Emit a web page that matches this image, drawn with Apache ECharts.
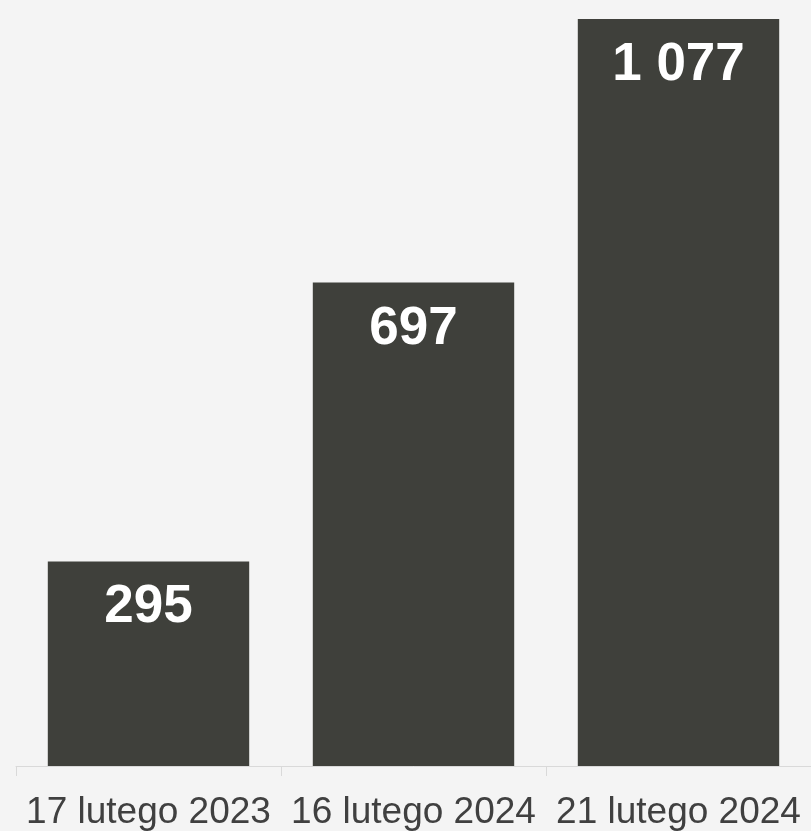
<!DOCTYPE html>
<html>
<head>
<meta charset="utf-8">
<script src="https://cdn.jsdelivr.net/npm/echarts@6/dist/echarts.min.js"></script>
<style>
  html, body { margin: 0; padding: 0; background: #f4f4f4; }
  #chart { width: 811px; height: 831px; }
</style>
</head>
<body>
<div id="chart"></div>
<script>
const categories = ['17 lutego 2023', '16 lutego 2024', '21 lutego 2024'];
const values = [295, 697, 1077];

// Thousands separated by a space, Polish style
function formatPl(v) {
  return String(v).replace(/\B(?=(\d{3})+(?!\d))/g, ' ');
}

const chart = echarts.init(document.getElementById('chart'), null, { renderer: 'canvas' });
chart.setOption({
  backgroundColor: '#f4f4f4',
  animation: false,
  grid: { left: 16, right: 0, top: 19, bottom: 65, containLabel: false },
  xAxis: {
    type: 'category',
    data: categories,
    axisLine: { show: true, lineStyle: { color: '#d9d9d9', width: 1 } },
    axisTick: { show: true, length: 10, lineStyle: { color: '#d9d9d9' } },
    axisLabel: {
      color: '#404040',
      fontFamily: 'Liberation Sans, Arial, sans-serif',
      fontSize: 37,
      margin: 28,
      interval: 0
    }
  },
  yAxis: {
    type: 'value',
    min: 0,
    max: 1077,
    show: false,
    splitLine: { show: false }
  },
  series: [{
    type: 'bar',
    data: values,
    barWidth: '76%',
    itemStyle: { color: '#3f403b' },
    label: {
      show: true,
      position: 'insideTop',
      distance: 20,
      color: '#ffffff',
      fontWeight: 'bold',
      fontFamily: 'Liberation Sans, Arial, sans-serif',
      fontSize: 53,
      formatter: p => formatPl(p.value)
    }
  }]
});
</script>
</body>
</html>
